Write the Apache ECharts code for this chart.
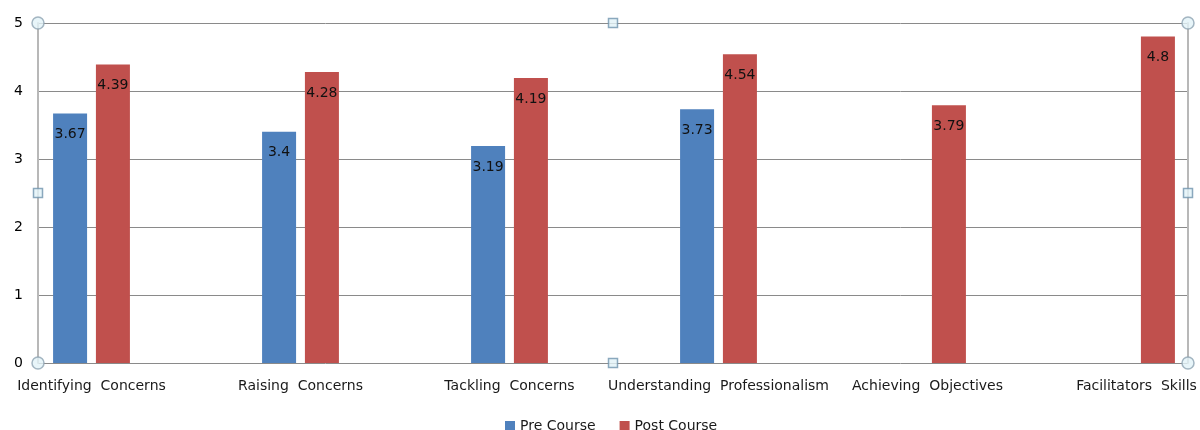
<!DOCTYPE html>
<html><head><meta charset="utf-8">
<script src="https://cdn.jsdelivr.net/npm/echarts@6/dist/echarts.min.js"></script>
<style>html,body{margin:0;padding:0;background:#fff}#c{width:1200px;height:430px}</style>
</head><body><div id="c"></div>
<script>
const categories = ['Identifying Concerns','Raising Concerns','Tackling Concerns','Understanding Professionalism','Achieving Objectives','Facilitators Skills'];
const preCourse = [3.67, 3.4, 3.19, 3.73, null, null];
const postCourse = [4.39, 4.28, 4.19, 4.54, 3.79, 4.8];
const yTicks = [0, 1, 2, 3, 4, 5];
const handlesCircle = [[0,5],[1,5],[0,0],[1,0]];
const handlesSquare = [[0.5,5],[0,2.5],[1,2.5],[0.5,0]];

const FONT = 'DejaVu Sans';
const chart = echarts.init(document.getElementById('c'), null, {renderer:'canvas'});
const labelCfg = {show:true, position:'insideTop', distance:14, color:'#111', fontSize:14, fontFamily:FONT};
chart.setOption({
  animation:false,
  backgroundColor:'#fff',
  textStyle:{fontFamily:FONT},
  grid:[
    {left:38, right:12, top:23, bottom:67},
    {left:91.5, right:63.5, top:23, bottom:67}
  ],
  xAxis:[
    {gridIndex:0, type:'value', min:0, max:1, show:true, axisLabel:{show:false}, axisTick:{show:false}, splitLine:{show:false}, axisLine:{show:false}},
    {gridIndex:1, type:'category', data:categories, boundaryGap:false,
     axisLine:{show:false}, axisTick:{show:false},
     axisLabel:{color:'#1a1a1a', fontSize:14, fontFamily:FONT, margin:16, interval:0,
       formatter:function(v){return v.replace(/ /g,'  ');}}}
  ],
  yAxis:[
    {gridIndex:0, type:'value', min:yTicks[0], max:yTicks[yTicks.length-1], interval:1,
     axisLine:{show:true, lineStyle:{color:'#b8b8b8', width:2}}, axisTick:{show:false},
     axisLabel:{color:'#000', fontSize:14, fontFamily:FONT, margin:15},
     splitLine:{show:true, lineStyle:{color:'#8a8a8a', width:1}}},
    {gridIndex:0, type:'value', min:0, max:5, interval:1, position:'right',
     axisLine:{show:true, lineStyle:{color:'#b8b8b8', width:2}}, axisTick:{show:false},
     axisLabel:{show:false}, splitLine:{show:false}},
    {gridIndex:1, type:'value', min:0, max:5, show:false}
  ],
  legend:{top:414, left:500, itemWidth:10, itemHeight:10, itemGap:24, icon:'rect',
    textStyle:{fontSize:14, color:'#1a1a1a', fontFamily:FONT},
    data:['Pre Course','Post Course']},
  series:[
    {name:'Pre Course', type:'bar', xAxisIndex:1, yAxisIndex:2, data:preCourse, barWidth:34, barGap:'26%',
     itemStyle:{color:'#4F81BD'}, label:labelCfg},
    {name:'Post Course', type:'bar', xAxisIndex:1, yAxisIndex:2, data:postCourse, barWidth:34, barGap:'26%',
     itemStyle:{color:'#C0504D'}, label:labelCfg},
    {type:'scatter', xAxisIndex:0, yAxisIndex:0, data:handlesCircle, symbol:'circle', symbolSize:12, z:10, silent:true,
     itemStyle:{color:'#e2f3f7', borderColor:'#8fa4b3', borderWidth:1.5}},
    {type:'scatter', xAxisIndex:0, yAxisIndex:0, data:handlesSquare, symbol:'rect', symbolSize:9, z:10, silent:true,
     itemStyle:{color:'#e2f3f7', borderColor:'#6f93ad', borderWidth:1.5}}
  ]
});
</script></body></html>
